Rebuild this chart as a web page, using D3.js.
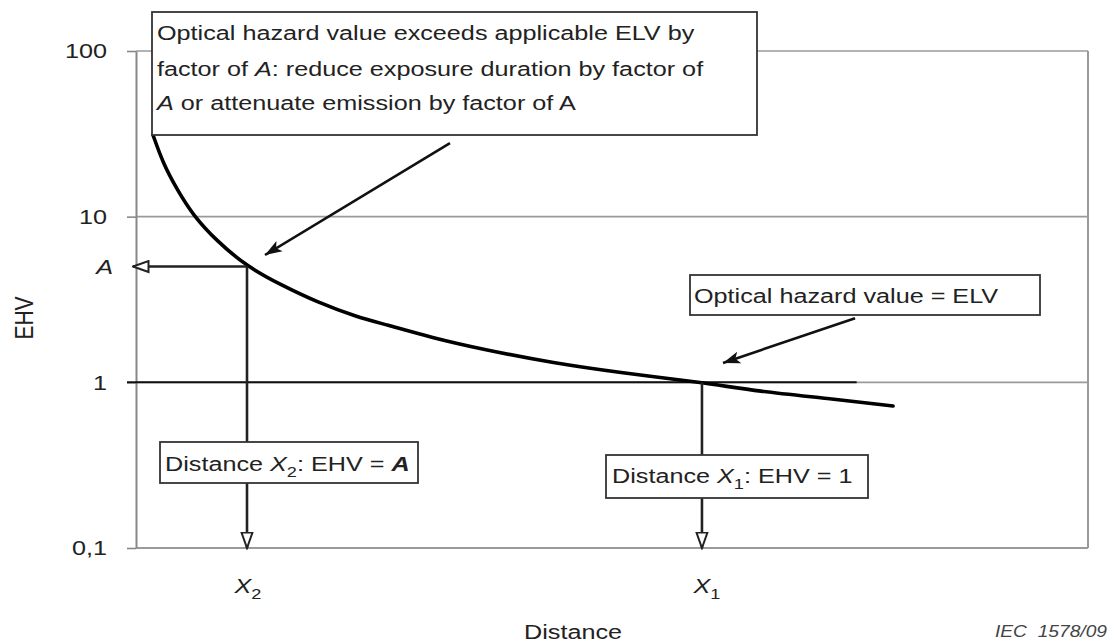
<!DOCTYPE html>
<html><head><meta charset="utf-8">
<script src="https://cdn.jsdelivr.net/npm/d3@7"></script>
<style>
body{margin:0;background:#fff}
svg{display:block}
text{font-family:"Liberation Sans",Arial,sans-serif;fill:#222}
</style>
</head><body>
<svg id="chart" width="1116" height="643"></svg>
<script>
// ---- data ----
const distance = [0.179,0.284,0.431,0.599,0.851,1.166,1.513,1.901,2.321,2.616,3.109,3.645,4.370,5.095,5.945,6.544,7.269,7.952];
const ehv      = [31.1, 21.0, 14.6, 10.2, 7.1, 5.0, 3.9, 3.05, 2.48, 2.24, 1.86, 1.58, 1.31, 1.14, 1.0, 0.88, 0.80, 0.72];
const yTicks = [0.1, 1, 10, 100];
const yTickLabels = ["0,1", "1", "10", "100"];
const valueA = 5.0;          // EHV = A
const distX2 = 1.166;        // distance X2 (EHV = A)
const distX1 = 5.945;        // distance X1 (EHV = 1)
const elvLineEnd = 7.57;     // extent of the dark EHV = 1 reference line
const arrowTop = {from:[3.298, 27.8], to:[1.355, 5.87]};
const arrowRight = {from:[7.553, 2.44], to:[6.166, 1.31]};

// ---- layout ----
const m = {left:136, right:1088, top:51, bottom:548};
const SX = 1.2;      // the reference figure is horizontally stretched
const FS = 21;
const svg = d3.select("#chart");

const x = d3.scaleLinear().domain([0, 10]).range([m.left, m.right]);
const y = d3.scaleLog().domain([0.1, 100]).range([m.bottom, m.top]);

const defs = svg.append("defs");
defs.append("marker").attr("id","openHead").attr("viewBox","0 0 18 14")
  .attr("refX",16.5).attr("refY",7).attr("markerWidth",18).attr("markerHeight",14)
  .attr("markerUnits","userSpaceOnUse").attr("orient","auto")
  .append("path").attr("d","M1,1.5 L16.5,7 L1,12.5 Z").attr("fill","#fff").attr("stroke","#222").attr("stroke-width",2);
defs.append("marker").attr("id","fillHead").attr("viewBox","0 0 18 14")
  .attr("refX",17).attr("refY",7).attr("markerWidth",18).attr("markerHeight",14)
  .attr("markerUnits","userSpaceOnUse").attr("orient","auto")
  .append("path").attr("d","M0,1 L17,7 L0,13 L4,7 Z").attr("fill","#111");

const grey = "#9a9a9a";

// gridlines & frame
svg.append("g").selectAll("line").data(yTicks.filter(d=>d>0.1)).join("line")
  .attr("x1", m.left).attr("x2", m.right).attr("y1", d=>y(d)).attr("y2", d=>y(d))
  .attr("stroke", grey).attr("stroke-width", 1.6);
svg.append("line").attr("x1", m.left).attr("x2", m.right).attr("y1", y(0.1)).attr("y2", y(0.1))
  .attr("stroke", grey).attr("stroke-width", 2);
svg.append("line").attr("x1", m.right).attr("x2", m.right).attr("y1", m.top).attr("y2", m.bottom)
  .attr("stroke", grey).attr("stroke-width", 2);

// y axis
const yAxis = d3.axisLeft(y).tickValues(yTicks).tickFormat((d,i)=>yTickLabels[i])
  .tickSize(9).tickSizeOuter(0).tickPadding(20);
const ga = svg.append("g").attr("transform", `translate(${m.left},0)`).call(yAxis);
ga.select(".domain").attr("stroke", "#888").attr("stroke-width", 2);
ga.selectAll(".tick line").attr("stroke", "#888").attr("stroke-width", 1.6);
ga.selectAll(".tick text").each(function(){
  const t = d3.select(this);
  const tx = +t.attr("x");
  t.attr("x", 0).attr("transform", `translate(${tx},0) scale(${SX},1)`)
   .attr("font-size", FS).attr("font-family", null).style("fill", "#222");
});

// dark EHV = 1 reference line
svg.append("line").attr("x1", m.left - 9).attr("x2", x(elvLineEnd)).attr("y1", y(1)).attr("y2", y(1))
  .attr("stroke", "#111").attr("stroke-width", 2);

// curve
const pts = distance.map((d,i)=>[d, ehv[i]]);
svg.append("path").datum(pts)
  .attr("d", d3.line().x(d=>x(d[0])).y(d=>y(d[1])).curve(d3.curveBasis))
  .attr("fill", "none").attr("stroke", "#000").attr("stroke-width", 3.6).attr("stroke-linecap","round");

// A construction lines
svg.append("line").attr("x1", x(distX2)).attr("y1", y(valueA)).attr("x2", m.left - 3).attr("y2", y(valueA))
  .attr("stroke", "#222").attr("stroke-width", 2.4).attr("marker-end", "url(#openHead)");
svg.append("line").attr("x1", x(distX2)).attr("y1", y(valueA)).attr("x2", x(distX2)).attr("y2", y(0.1))
  .attr("stroke", "#222").attr("stroke-width", 2.6).attr("marker-end", "url(#openHead)");
svg.append("line").attr("x1", x(distX1)).attr("y1", y(1)).attr("x2", x(distX1)).attr("y2", y(0.1))
  .attr("stroke", "#222").attr("stroke-width", 2.6).attr("marker-end", "url(#openHead)");

// text helper
function addText(px, py, parts, opt={}) {
  const g = svg.append("g").attr("transform", `translate(${px},${py}) scale(${SX},1)${opt.rotate?` rotate(${opt.rotate})`:""}`);
  const t = g.append("text").attr("font-size", opt.size || FS)
    .attr("text-anchor", opt.anchor || "start").style("white-space","pre");
  if (opt.fill) t.style("fill", opt.fill);
  if (opt.italic) t.attr("font-style","italic");
  parts.forEach(p => {
    const s = t.append("tspan").text(p.t);
    if (p.i) s.attr("font-style","italic");
    if (p.b) s.attr("font-weight","bold");
    if (p.sub) s.attr("font-size", (opt.size||FS)*0.72).attr("dy", 6);
    if (p.up) s.attr("dy", -6);
  });
  return t;
}
function box(x0, y0, x1, y1) {
  svg.append("rect").attr("x", x0).attr("y", y0).attr("width", x1-x0).attr("height", y1-y0)
    .attr("fill", "#fff").attr("stroke", "#333").attr("stroke-width", 1.8);
}

// top annotation box
box(152, 12, 757, 135);
addText(157, 40, [{t:"Optical hazard value exceeds applicable ELV by"}]);
addText(157, 75.5, [{t:"factor of "},{t:"A",i:true},{t:": reduce exposure duration by factor of"}]);
addText(157, 110, [{t:"A",i:true},{t:" or attenuate emission by factor of A"}]);

// right annotation box
box(690, 275, 1040, 315);
addText(694, 303, [{t:"Optical hazard value = ELV"}]);

// distance boxes
box(160, 442, 418, 483);
addText(165, 471, [{t:"Distance "},{t:"X",i:true},{t:"2",sub:true},{t:": EHV = ",up:true},{t:"A",i:true,b:true}]);
box(606, 455, 868, 498);
addText(612, 483, [{t:"Distance "},{t:"X",i:true},{t:"1",sub:true},{t:": EHV = 1",up:true}]);

// annotation arrows
[arrowTop, arrowRight].forEach(a => {
  svg.append("line").attr("x1", x(a.from[0])).attr("y1", y(a.from[1]))
    .attr("x2", x(a.to[0])).attr("y2", y(a.to[1]))
    .attr("stroke", "#111").attr("stroke-width", 2.6).attr("marker-end", "url(#fillHead)");
});

// A label on the y axis
addText(113, y(valueA) + 7.5, [{t:"A",i:true}], {anchor:"end"});

// x labels
addText(x(distX2) + 1, 593, [{t:"X",i:true},{t:"2",sub:true}], {anchor:"middle"});
addText(x(distX1) + 5, 593, [{t:"X",i:true},{t:"1",sub:true}], {anchor:"middle"});
addText(573, 639, [{t:"Distance"}], {anchor:"middle"});

// y title
addText(33, 318, [{t:"EHV"}], {anchor:"middle", rotate:-90});

// source id
addText(995, 637, [{t:"IEC  1578/09"}], {size:16, italic:true, fill:"#444"});
</script>
</body></html>
